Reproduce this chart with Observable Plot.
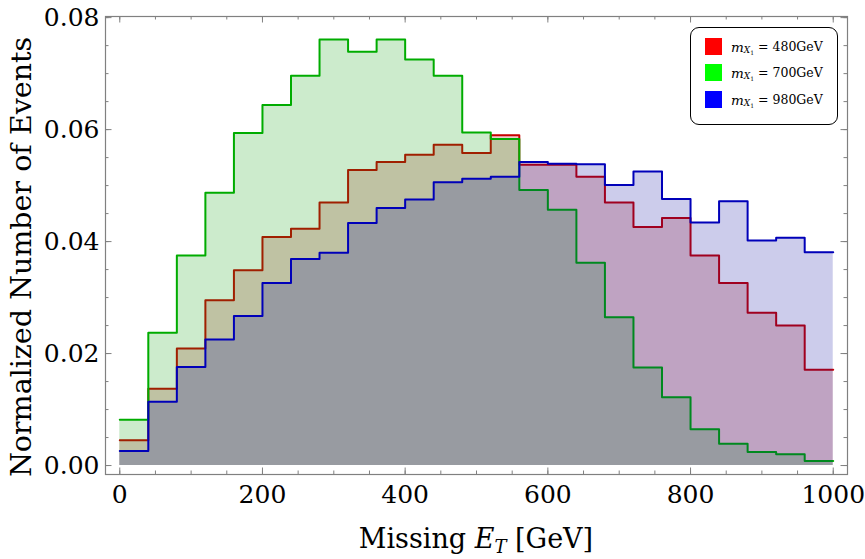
<!DOCTYPE html>
<html><head><meta charset="utf-8">
<script src="https://cdn.jsdelivr.net/npm/d3@7"></script>
<script src="https://cdn.jsdelivr.net/npm/@observablehq/plot@0.6"></script>
<style>
body{margin:0;background:#fff;}
#wrap{position:relative;width:865px;height:559px;overflow:hidden;}
#legend{position:absolute;left:690px;top:27px;width:148px;height:98px;box-sizing:border-box;border:1.3px solid #000;border-radius:9px;background:#fff;font-family:"DejaVu Serif";font-size:12.5px;color:#000;}
.row{position:absolute;left:14px;height:17px;display:flex;align-items:center;white-space:nowrap;}
.sw{width:17px;height:17px;margin-right:9px;flex:none;}
.mi{font-style:italic;font-size:13.5px;}
.sub{font-style:italic;font-size:9px;position:relative;top:3px;}
.sub1{font-size:6px;font-style:normal;position:relative;top:2px;}
</style></head><body><div id="wrap"><div id="chart"></div><div id="legend"></div></div>
<script>
// Bin starts (GeV), bin width 40, histogram range end
const binStart = [0,40,80,120,160,200,240,280,320,360,400,440,480,520,560,600,640,680,720,760,800,840,880,920,960];
const rangeEnd = 1000;
const series = ["480GeV","700GeV","980GeV"];
const red480 = [0.0045,0.0137,0.0209,0.0295,0.0349,0.0408,0.0423,0.0470,0.0528,0.0542,0.0555,0.0573,0.0558,0.0590,0.0537,0.0537,0.0516,0.0470,0.0426,0.0442,0.0375,0.0326,0.0273,0.0250,0.0171];
const green700 = [0.0082,0.0237,0.0375,0.0487,0.0594,0.0644,0.0696,0.0761,0.0739,0.0761,0.0725,0.0696,0.0595,0.0583,0.0492,0.0457,0.0362,0.0265,0.0175,0.0122,0.0065,0.0039,0.0024,0.0020,0.0008];
const blue980 = [0.0026,0.0114,0.0176,0.0225,0.0267,0.0326,0.0369,0.0380,0.0433,0.0460,0.0475,0.0506,0.0512,0.0516,0.0542,0.0539,0.0538,0.0501,0.0525,0.0476,0.0434,0.0472,0.0402,0.0407,0.0381];
const xMajor = [0,200,400,600,800,1000];
const xMinor = [0,50,100,150,200,250,300,350,400,450,500,550,600,650,700,750,800,850,900,950,1000];
const yMajor = [0,0.02,0.04,0.06,0.08];
const yMinor = [0,0.005,0.01,0.015,0.02,0.025,0.03,0.035,0.04,0.045,0.05,0.055,0.06,0.065,0.07,0.075,0.08];

const fills = ["rgb(175,0,0)","rgb(0,157,0)","rgb(0,0,154)"];
const strokes = ["rgb(200,0,0)","rgb(0,172,0)","rgb(0,0,185)"];
const swatch = ["#ff0000","#00ff00","#0000ff"];

function pts(vals){
  const p = binStart.map((x,i)=>({x, y: vals[i]}));
  p.push({x: rangeEnd, y: vals[vals.length-1]});
  return p;
}
const data = [pts(red480), pts(green700), pts(blue980)];

const W = 865, H = 559, mL = 105, mR = 18, mT = 16, mB = 85;
const pw = W - mL - mR, ph = H - mT - mB;
const frameColor = "#808080";

const marks = [];
data.forEach((d,i)=>{
  marks.push(Plot.areaY(d,{x:"x",y:"y",curve:"step-after",fill:fills[i],fillOpacity:0.2}));
  marks.push(Plot.lineY(d,{x:"x",y:"y",curve:"step-after",stroke:strokes[i],strokeWidth:2}));
});
const minorLen = 3.5, majorLen = 6.5;
marks.push(
  Plot.tickX(xMinor,{x:d=>d,insetTop:ph-minorLen,stroke:frameColor}),
  Plot.tickX(xMinor,{x:d=>d,insetBottom:ph-minorLen,stroke:frameColor}),
  Plot.tickX(xMajor,{x:d=>d,insetTop:ph-majorLen,stroke:frameColor}),
  Plot.tickX(xMajor,{x:d=>d,insetBottom:ph-majorLen,stroke:frameColor}),
  Plot.tickY(yMinor,{y:d=>d,insetRight:pw-minorLen,stroke:frameColor}),
  Plot.tickY(yMinor,{y:d=>d,insetLeft:pw-minorLen,stroke:frameColor}),
  Plot.tickY(yMajor,{y:d=>d,insetRight:pw-majorLen,stroke:frameColor}),
  Plot.tickY(yMajor,{y:d=>d,insetLeft:pw-majorLen,stroke:frameColor}),
  Plot.frame({stroke:frameColor,strokeWidth:1.2}),
  Plot.axisX({ticks:xMajor,tickSize:0,tickPadding:11,fontSize:25,tickFormat:d=>String(d),label:null,fill:"#000"}),
  Plot.axisY({ticks:yMajor,tickSize:0,tickPadding:6,fontSize:25,tickFormat:d3.format(".2f"),label:null,fill:"#000"})
);

const chart = Plot.plot({
  width: W, height: H,
  marginLeft: mL, marginRight: mR, marginTop: mT, marginBottom: mB,
  x: {domain: [-20, 1020]},
  y: {domain: [-0.0016, 0.0802]},
  style: {fontFamily: "DejaVu Serif", background: "white", color: "#000"},
  marks
});
document.getElementById("chart").appendChild(chart);

const svg = d3.select(chart);
const xt = svg.append("text").attr("x", mL + pw/2).attr("y", 548)
  .attr("text-anchor","middle").attr("font-family","DejaVu Serif").attr("font-size",27).attr("fill","#000");
xt.append("tspan").text("Missing ");
xt.append("tspan").attr("font-style","italic").text("E");
xt.append("tspan").attr("font-style","italic").attr("font-size",18).attr("dy",5).text("T");
xt.append("tspan").attr("dy",-5).text(" [GeV]");
svg.append("text").attr("transform",`translate(31,${mT + ph/2 + 12}) rotate(-90)`)
  .attr("text-anchor","middle").attr("font-family","DejaVu Serif").attr("font-size",28.5).attr("fill","#000")
  .text("Normalized Number of Events");

const leg = document.getElementById("legend");
const tops = [10, 36, 63];
series.forEach((s,i)=>{
  const r = document.createElement("div");
  r.className = "row"; r.style.top = tops[i] + "px";
  r.innerHTML = `<div class="sw" style="background:${swatch[i]}"></div><span class="mi">m</span><span class="sub">X<span class="sub1">1</span></span><span>&nbsp;= ${s}</span>`;
  leg.appendChild(r);
});
</script></body></html>
